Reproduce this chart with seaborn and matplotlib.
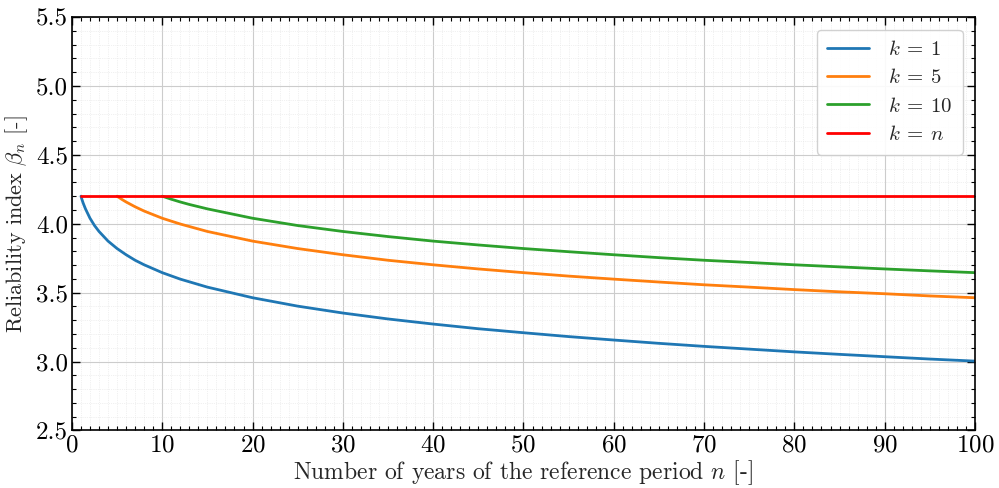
import matplotlib
matplotlib.use("Agg")
import matplotlib.pyplot as plt
import seaborn as sns
import pandas as pd
from matplotlib.ticker import MultipleLocator

# Reliability index over the reference period for different basic periods k
n_k1 = [1, 1.1, 1.25, 1.5, 2, 2.5, 3, 4, 5, 6, 7, 8, 10, 12, 15, 20, 25, 30, 35,
        40, 45, 50, 55, 60, 65, 70, 75, 80, 85, 90, 95, 100]
beta_k1 = [4.20, 4.178, 4.149, 4.108, 4.04, 3.987, 3.944, 3.874, 3.82, 3.775,
           3.735, 3.702, 3.645, 3.598, 3.54, 3.463, 3.402, 3.352, 3.309, 3.272,
           3.238, 3.209, 3.181, 3.156, 3.132, 3.11, 3.09, 3.07, 3.052, 3.035,
           3.018, 3.003]

n_k5 = [5, 5.5, 6, 7, 8, 10, 12, 15, 20, 25, 30, 35, 40, 45, 50, 55, 60, 65, 70,
        75, 80, 85, 90, 95, 100]
beta_k5 = [4.20, 4.178, 4.158, 4.123, 4.092, 4.04, 3.998, 3.944, 3.874, 3.82,
           3.775, 3.735, 3.702, 3.672, 3.645, 3.62, 3.598, 3.577, 3.557, 3.54,
           3.522, 3.506, 3.492, 3.476, 3.463]

n_k10 = [10, 11, 12, 13, 15, 20, 25, 30, 35, 40, 45, 50, 55, 60, 65, 70, 75, 80,
         85, 90, 95, 100]
beta_k10 = [4.20, 4.178, 4.158, 4.14, 4.108, 4.04, 3.987, 3.944, 3.907, 3.874,
            3.846, 3.82, 3.797, 3.775, 3.754, 3.735, 3.719, 3.702, 3.687, 3.672,
            3.658, 3.645]

n_kn = [1, 100]
beta_kn = [4.20, 4.20]

labels = [r"$k\:=\:1$", r"$k\:=\:5$", r"$k\:=\:10$", r"$k\:=\:n$"]
colors = ["#1f77b4", "#ff7f0e", "#2ca02c", "#ff0000"]

frames = []
for lab, xs, ys in zip(labels, [n_k1, n_k5, n_k10, n_kn],
                       [beta_k1, beta_k5, beta_k10, beta_kn]):
    frames.append(pd.DataFrame({"n": xs, "beta": ys, "case": lab}))
df = pd.concat(frames, ignore_index=True)

sns.set_style("white")
plt.rcParams["font.family"] = ["cmr10"]
plt.rcParams["mathtext.fontset"] = "cm"
plt.rcParams["axes.formatter.use_mathtext"] = True
plt.rcParams["axes.unicode_minus"] = False

fig, ax = plt.subplots(figsize=(9.99, 4.88), dpi=100)
sns.lineplot(data=df, x="n", y="beta", hue="case", palette=colors,
             hue_order=labels, linewidth=2, ax=ax, sort=True)

ax.set_xlim(0, 100)
ax.set_ylim(2.5, 5.5)
ax.xaxis.set_major_locator(MultipleLocator(10))
ax.xaxis.set_minor_locator(MultipleLocator(1))
ax.yaxis.set_minor_locator(MultipleLocator(0.1))
ax.set_yticks([2.5, 3.0, 3.5, 4.0, 4.5, 5.0, 5.5])
ax.set_yticklabels(["2.5", "3.0", "3.5", "4.0", "4.5", "5.0", "5.5"])

ax.tick_params(which="both", direction="in", top=True, right=True,
               bottom=True, left=True, labelsize=18, colors="black")
ax.tick_params(which="major", length=6, width=1, pad=3)
ax.tick_params(which="minor", length=3, width=0.8)
ax.grid(which="major", color="#cccccc", linewidth=0.8)
ax.grid(which="minor", color="#e3e3e3", linewidth=0.5, linestyle=":")
for sp in ax.spines.values():
    sp.set_color("black")
    sp.set_linewidth(1.2)

ax.set_xlabel(r"Number of years of the reference period $n$ [-]", fontsize=17,
              labelpad=1)
ax.set_ylabel(r"Reliability index $\beta_n$ [-]", fontsize=16, labelpad=4)

leg = ax.legend(loc="upper right", fontsize=15, frameon=True,
                handlelength=2.0, borderpad=0.5, labelspacing=0.45,
                handletextpad=0.9, borderaxespad=0.6)
leg.get_frame().set_edgecolor("#cccccc")
leg.get_frame().set_alpha(0.9)
for line in leg.get_lines():
    line.set_linewidth(2)

fig.subplots_adjust(left=0.072, right=0.976, top=0.965, bottom=0.118)
fig.savefig("out.png", dpi=100)
